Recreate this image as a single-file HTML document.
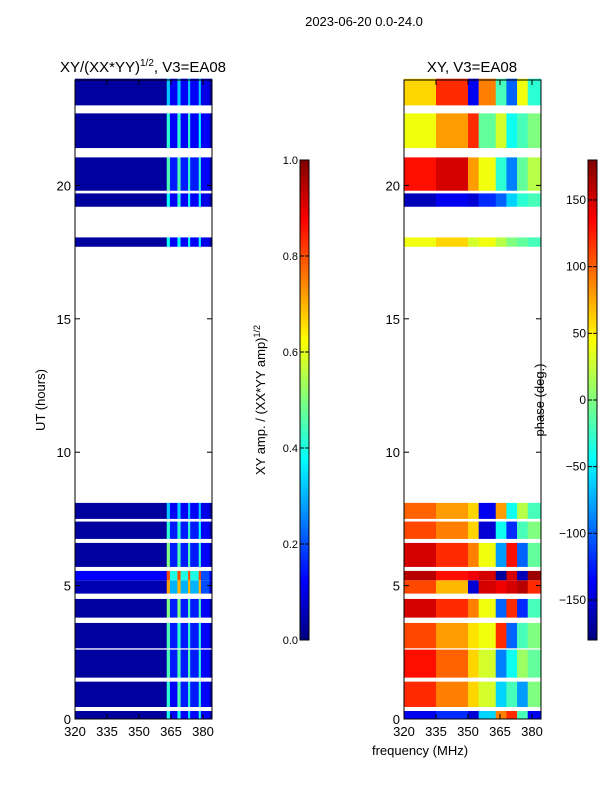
<!DOCTYPE html>
<html><head><meta charset="utf-8"><style>
body{margin:0;background:#fff;width:600px;height:800px;overflow:hidden}
svg text{font-family:"Liberation Sans",sans-serif;}
</style></head><body>
<svg id="s" width="600" height="800" xmlns="http://www.w3.org/2000/svg">
<text x="364" y="26" font-size="13" text-anchor="middle">2023-06-20 0.0-24.0</text>
<text x="143" y="72" font-size="15" text-anchor="middle">XY/(XX*YY)<tspan font-size="10" dy="-6">1/2</tspan><tspan dy="6">, V3=EA08</tspan></text>
<text x="472" y="72" font-size="15" text-anchor="middle">XY, V3=EA08</text>
<text transform="translate(45,400) rotate(-90)" font-size="13" text-anchor="middle">UT (hours)</text>
<text transform="translate(265,400) rotate(-90)" font-size="13" text-anchor="middle">XY amp. / (XX*YY amp)<tspan font-size="9" dy="-5">1/2</tspan></text>
<text transform="translate(544,400) rotate(-90)" font-size="13" text-anchor="middle">phase (deg.)</text>
<text x="420" y="755" font-size="13" text-anchor="middle">frequency (MHz)</text>
<g id="g"></g>
</svg>
<script>
const bands=[[0,0.3],[0.45,1.4],[1.55,2.6],[2.65,3.6],[3.8,4.5],[4.7,5.2],[5.2,5.55],[5.7,6.6],[6.75,7.4],[7.5,8.1],[17.7,18.05],[19.2,19.7],[19.8,21.05],[21.4,22.7],[23.0,24.0]];
const ampEdges=[320,363,364.5,368,369.5,373,374,378,379,383,384.2];
const ampVals=[
[0.03,0.4,0.12,0.4,0.12,0.35,0.12,0.4,0.12,0.05],
[0.03,0.42,0.12,0.45,0.15,0.42,0.15,0.42,0.12,0.05],
[0.03,0.45,0.15,0.45,0.15,0.45,0.15,0.42,0.12,0.05],
[0.03,0.45,0.15,0.42,0.15,0.42,0.15,0.42,0.12,0.05],
[0.03,0.5,0.15,0.5,0.15,0.45,0.15,0.45,0.12,0.05],
[0.05,0.72,0.3,0.7,0.3,0.7,0.3,0.7,0.2,0.08],
[0.12,0.8,0.4,0.8,0.4,0.8,0.4,0.8,0.2,0.12],
[0.03,0.5,0.15,0.45,0.15,0.45,0.15,0.42,0.12,0.05],
[0.03,0.42,0.15,0.42,0.15,0.42,0.15,0.38,0.12,0.05],
[0.03,0.32,0.12,0.32,0.12,0.32,0.12,0.32,0.1,0.04],
[0.03,0.38,0.12,0.38,0.12,0.38,0.12,0.38,0.1,0.04],
[0.03,0.38,0.12,0.42,0.12,0.38,0.12,0.38,0.1,0.04],
[0.03,0.45,0.15,0.45,0.15,0.42,0.15,0.42,0.12,0.05],
[0.03,0.42,0.12,0.42,0.12,0.42,0.12,0.38,0.12,0.05],
[0.03,0.32,0.12,0.32,0.12,0.32,0.12,0.32,0.1,0.04]];
const phEdges=[320,335,350,355,363,368,373,378,384.2];
const phVals=[
[-140,-120,-150,-60,90,120,-20,-140],
[120,90,60,30,-60,-20,-80,0],
[130,100,60,30,-90,-40,10,-10],
[110,80,55,40,120,-100,-20,0],
[150,120,90,40,-100,120,-120,-20],
[110,70,-150,150,140,150,160,120],
[160,130,140,150,-170,150,-160,170],
[150,120,90,40,-80,130,-100,-10],
[110,90,60,-150,-40,-120,-20,0],
[100,80,60,-140,80,-40,20,-20],
[40,60,30,40,20,0,-10,-20],
[-160,-140,-150,-120,-100,-60,-30,-20],
[130,150,80,40,-30,-90,-10,20],
[40,80,120,-10,30,-40,-20,0],
[60,120,-140,90,-20,-100,40,-30]];
const ampTicks=[0,0.2,0.4,0.6,0.8,1.0], phTicks=[-150,-100,-50,0,50,100,150];
const yTicks=[0,5,10,15,20], xTicks=[320,335,350,365,380];
function jet(v){v=Math.max(0,Math.min(1,v));const f=x=>Math.round(255*Math.max(0,Math.min(1,1.5-Math.abs(4*v-x))));return `rgb(${f(3)},${f(2)},${f(1)})`;}
const NS='http://www.w3.org/2000/svg',g=document.getElementById('g');
function el(t,a){const e=document.createElementNS(NS,t);for(const k in a)e.setAttribute(k,a[k]);g.appendChild(e);return e;}
const Y=h=>719-h*26.68;
const XL=f=>75+(f-320)*2.1333, XR=f=>404+(f-320)*2.1333;
bands.forEach((b,i)=>{
 for(let j=0;j<ampVals[i].length;j++){const r=el('rect',{x:XL(ampEdges[j]),y:Y(b[1]),width:XL(ampEdges[j+1])-XL(ampEdges[j])+0.3,height:Y(b[0])-Y(b[1]),fill:jet(ampVals[i][j])});
 
 }
 for(let j=0;j<phVals[i].length;j++){const r=el('rect',{x:XR(phEdges[j]),y:Y(b[1]),width:XR(phEdges[j+1])-XR(phEdges[j])+0.3,height:Y(b[0])-Y(b[1]),fill:jet((phVals[i][j]+180)/360)});
 
 }
});
[[75,'left'],[404,'right']].forEach(([x0,n])=>{
 const f=el('rect',{x:x0,y:80,width:137,height:639,fill:'none',stroke:'#000'});
 
 
 yTicks.forEach(t=>{el('line',{x1:x0,x2:x0+5,y1:Y(t),y2:Y(t),stroke:'#000'});el('line',{x1:x0+137,x2:x0+132,y1:Y(t),y2:Y(t),stroke:'#000'});
  const tx=el('text',{x:x0-4,y:Y(t)+5,'font-size':13,'text-anchor':'end'});tx.textContent=t;
  
  });
 xTicks.forEach(t=>{const x=x0+(t-320)*2.1333;el('line',{x1:x,x2:x,y1:719,y2:714,stroke:'#000'});el('line',{x1:x,x2:x,y1:80,y2:85,stroke:'#000'});
  const tx=el('text',{x:x,y:736,'font-size':13,'text-anchor':'middle'});tx.textContent=t;
  
  });
});
[[300,0,1,ampTicks,'amp'],[588,-180,180,phTicks,'phase']].forEach(([x0,lo,hi,ticks,n])=>{
 for(let i=0;i<120;i++){el('rect',{x:x0,y:640-(i+1)*4,width:9,height:4.3,fill:jet((i+0.5)/120)});}
 const f=el('rect',{x:x0,y:160,width:9,height:480,fill:'none',stroke:'#000'});
 
 
 ticks.forEach(t=>{const y=640-(t-lo)/(hi-lo)*480;el('line',{x1:x0+9,x2:x0+5,y1:y,y2:y,stroke:'#000'});el('line',{x1:x0,x2:x0+4,y1:y,y2:y,stroke:'#000'});
  const tx=el('text',{x:x0-2,y:y+4,'font-size':n=='amp'?11:12,'text-anchor':'end'});
  tx.textContent=n=='amp'?t.toFixed(1):(t<0?'\u2212'+(-t):t);
  
  });
});
</script>
</body></html>
